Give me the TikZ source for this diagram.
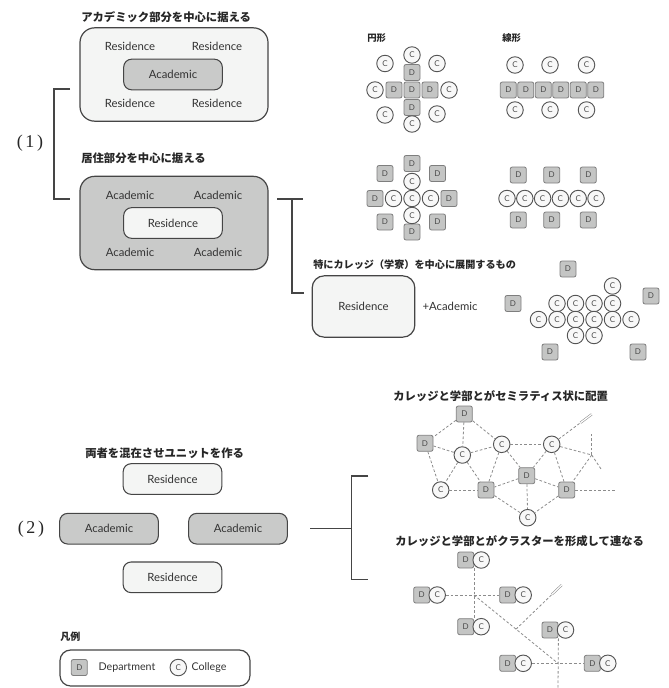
\documentclass[tikz,border=0pt]{standalone}
\usepackage{fontspec}
\setmainfont{Lato}
\newfontfamily\jp{Noto Sans CJK JP}
\newfontfamily\numserif{Liberation Serif}
\usetikzlibrary{calc}
\definecolor{boxlight}{HTML}{F4F5F4}
\definecolor{boxgray}{HTML}{C9CAC9}
\definecolor{edge}{HTML}{454545}
\definecolor{dfill}{HTML}{C4C5C4}
\definecolor{dline}{HTML}{7E7E7E}
\definecolor{cline}{HTML}{555555}
\definecolor{cfill}{HTML}{F8F8F8}
\definecolor{dashc}{HTML}{8C8C8C}
\definecolor{txt}{HTML}{333333}
\newcommand\labfont{\fontsize{8.5}{10}\selectfont}
\tikzset{
 bigbox/.style={draw=edge, line width=0.9pt, rounded corners=11pt, minimum width=141pt, minimum height=70pt, inner sep=0pt},
 lightbox/.style={fill=boxlight},
 graybox/.style={fill=boxgray},
 smallbox/.style={draw=edge, line width=0.8pt, rounded corners=6pt, minimum width=74pt, minimum height=23pt, inner sep=0pt, font=\labfont, text=txt},
 lbl/.style={font=\labfont, text=txt},
 jt/.style={font=\jp\bfseries\fontsize{8.5}{10}\selectfont, anchor=west, text=black!85, inner sep=0pt},
 num/.style={font=\numserif\fontsize{13.5}{15}\selectfont, text=black!85},
 dsq/.style={draw=dline, fill=dfill, line width=0.6pt, rounded corners=1.5pt, minimum size=12pt, inner sep=0pt, font=\fontsize{6}{6}\selectfont, text=black!70},
 ccir/.style={circle, draw=cline, fill=cfill, line width=0.7pt, minimum size=12.4pt, inner sep=0pt, font=\fontsize{6}{6}\selectfont, text=black!70},
 dsh/.style={draw=dashc, line width=0.6pt, dash pattern=on 2pt off 1.5pt},
 brk/.style={draw=edge, line width=0.8pt},
 cut/.style={draw=dashc, double=white, double distance=0.9pt, line width=0.4pt},
}
\begin{document}
\begin{tikzpicture}[x=0.75pt,y=-0.75pt]
\useasboundingbox (0,0) rectangle (668,688);

% ---------- (1) ----------
\node[num] (n1) at (30,143) {(\hspace{2pt}1\hspace{2pt})};
\coordinate (br1a) at (70,89);
\coordinate (br1b) at (70,199);
\draw[brk] (br1a) -- (54,89) -- (54,199) -- (br1b);

\node[jt] (t1) at (81,17) {アカデミック部分を中心に据える};
\node[bigbox, lightbox] (b1) at (174,74.5) {};
\node[lbl] (b1r1) at (130,46) {Residence};
\node[lbl] (b1r2) at (217,46) {Residence};
\node[lbl] (b1r3) at (130,103) {Residence};
\node[lbl] (b1r4) at (217,103) {Residence};
\node[smallbox, graybox] (b1a) at (173,74.5) {Academic};

\node[jt] (t2) at (81,158) {居住部分を中心に据える};
\node[bigbox, graybox] (b2) at (174,223) {};
\node[lbl] (b2a1) at (130,195) {Academic};
\node[lbl] (b2a2) at (218,195) {Academic};
\node[lbl] (b2a3) at (130,252) {Academic};
\node[lbl] (b2a4) at (218,252) {Academic};
\node[smallbox, lightbox] (b2r) at (173,223) {Residence};

\coordinate (tA) at (277,199);
\coordinate (tB) at (303,199);
\coordinate (tC) at (304,293);
\draw[brk] (tA) -- (tB);
\draw[brk] (292,199) -- (292,293) -- (tC);

\node[jt, font=\jp\bfseries\fontsize{7.6}{10}\selectfont] (t3) at (313,265) {特にカレッジ（学寮）を中心に展開するもの};
\node[draw=edge, line width=0.9pt, rounded corners=9pt, minimum width=77pt, minimum height=46pt, inner sep=0pt, lightbox, lbl] (b3) at (363.5,306.5) {Residence};
\node[lbl] (plus) at (450,306) {+Academic};

% circular
\node[jt, font=\jp\bfseries\fontsize{7}{9}\selectfont] (t4) at (367,38) {円形};
\node[dsq] (cd1) at (412,72.5) {D};
\node[dsq] (cd2) at (394,90) {D};
\node[dsq] (cd3) at (412,90) {D};
\node[dsq] (cd4) at (430,90) {D};
\node[dsq] (cd5) at (412,107.5) {D};
\foreach \x/\y [count=\i] in {412/55,375/90,449/90,412/124,385/63.5,437/63.5,385/115,437/114}
  \node[ccir] (cc\i) at (\x,\y) {C};

% linear
\node[jt, font=\jp\bfseries\fontsize{7}{9}\selectfont] (t5) at (502,38) {線形};
\foreach \i in {0,...,5}
  \node[dsq] (ld\i) at ({508.3+17.5*\i},90) {D};
\foreach \x [count=\i] in {515,550,586.5}{
  \node[ccir] (lct\i) at (\x,65) {C};
  \node[ccir] (lcb\i) at (\x,110) {C};
}

% circular (residence centred)
\foreach \x/\y [count=\i] in {412/163.5,375/198.5,449/198.5,412/232,385/173.5,437.5/173.5,385/222,437.5/222}
  \node[dsq] (md\i) at (\x,\y) {D};
\foreach \x/\y [count=\i] in {412/181.5,393.5/198.5,412/198.5,430.5/198.5,412/215.5}
  \node[ccir] (mc\i) at (\x,\y) {C};

% linear (residence centred)
\foreach \x [count=\i] in {518.3,551.7,588.3}{
  \node[dsq] (nd\i) at (\x,175) {D};
  \node[dsq] (ne\i) at (\x,220) {D};
}
\foreach \i in {0,...,5}
  \node[ccir] (nc\i) at ({507+17.8*\i},198.5) {C};

% cluster
\foreach \x/\y [count=\i] in {568/269,513/303.5,651/296,550/352,638/352}
  \node[dsq] (kd\i) at (\x,\y) {D};
\foreach \x/\y [count=\i] in {612.5/286,557/303.5,575.5/303.5,594/303.5,612.5/303.5,538.5/319.5,557/319.5,575.5/319.5,594/319.5,612.5/319.5,631/319.5,575.5/335.5,594/335.5}
  \node[ccir] (kc\i) at (\x,\y) {C};

% ---------- (2) ----------
\node[num] (n2) at (31,529) {(\hspace{2pt}2\hspace{2pt})};
\node[jt] (t6) at (85,453) {両者を混在させユニットを作る};
\node[smallbox, lightbox] (u1) at (172.5,479) {Residence};
\node[smallbox, graybox] (u2) at (109,528.7) {Academic};
\node[smallbox, graybox] (u3) at (238,528.7) {Academic};
\node[smallbox, lightbox] (u4) at (172.5,577.3) {Residence};

\coordinate (s0) at (310,528.3);
\coordinate (s1) at (368.3,476);
\coordinate (s2) at (368.3,579.3);
\draw[brk] (s0) -- (351.7,528.3);
\draw[brk] (s1) -- (351.7,476) -- (351.7,579.3) -- (s2);

% semilattice
\node[jt] (t7) at (393,396) {カレッジと学部とがセミラティス状に配置};
\node[dsq] (sd1) at (464.3,414) {D};
\node[dsq] (sd2) at (425,443.3) {D};
\node[dsq] (sd3) at (526.7,475.7) {D};
\node[dsq] (sd4) at (486,490) {D};
\node[dsq] (sd5) at (566.7,490) {D};
\node[ccir] (sc1) at (462.3,455) {C};
\node[ccir] (sc2) at (501.7,444.3) {C};
\node[ccir] (sc3) at (551.7,444.3) {C};
\node[ccir] (sc4) at (440.7,490) {C};
\node[ccir] (sc5) at (527.7,517.7) {C};
\coordinate (sj) at (591.7,455);
\coordinate (sju) at (591.7,433);
\coordinate (sjd) at (601.7,470);
\coordinate (scut) at (591.7,414.3);
\coordinate (sr) at (615,490);
\foreach \a/\b in {sd1/sd2,sd1/sc1,sd1/sc2,sd2/sc1,sd2/sc4,sc1/sc4,sc1/sd4,sc1/sc2,sc2/sd4,sc2/sc3,sc2/sd3,sc3/sd3,sc3/sd5,sd3/sd4,sd3/sd5,sd3/sc5,sc4/sd4,sd4/sc5,sd5/sc5}
  \draw[dsh] (\a) -- (\b);
\draw[dsh] (sc3) -- (sj);
\draw[dsh] (sj) -- (sd5);
\draw[dsh] (sj) -- (sju);
\draw[dsh] (sj) -- (sjd);
\draw[dsh] (sd5) -- (sr);
\draw[dsh] (sc3) -- (scut);
\draw[cut] (580.5,422.7) -- (scut);

% cluster chain
\node[jt] (t8) at (395,541) {カレッジと学部とがクラスターを形成して連なる};
\foreach \x/\y [count=\i] in {465.7/560,421.7/595,507.7/595,465.7/626.7,550/630,507.7/663.3,592.3/663.3}{
  \node[dsq] (pd\i) at (\x,\y) {D};
  \node[ccir] (pc\i) at ({\x+15.5},\y) {C};
}
\coordinate (k1) at (474,595);
\coordinate (k2) at (558,663.3);
\coordinate (kb) at (558,688);
\coordinate (kcut) at (561.7,585);
\draw[dsh] (pd1.south east) -- (pd4.north east);
\draw[dsh] (pc2) -- (pd3);
\draw[dsh] (k1) -- (k2);
\draw[dsh] (pc6) -- (pd7);
\draw[dsh] (pd5.south east) -- (kb);
\draw[dsh] ($(k1)!0.5!(k2)$) -- (kcut);
\draw[cut] (552,594.3) -- (kcut);

% legend
\node[jt, font=\jp\bfseries\fontsize{7.5}{9}\selectfont] (t9) at (60,637) {凡例};
\node[draw=edge, line width=0.9pt, rounded corners=8pt, minimum width=142.5pt, minimum height=27pt, inner sep=0pt] (lg) at (155,668) {};
\node[dsq] (lgd) at (79.3,667.5) {D};
\node[lbl, font=\fontsize{8}{10}\selectfont] (lgdt) at (127,667.5) {Department};
\node[ccir] (lgc) at (178.3,667.5) {C};
\node[lbl, font=\fontsize{8}{10}\selectfont] (lgct) at (209,667.5) {College};
\end{tikzpicture}
\end{document}
